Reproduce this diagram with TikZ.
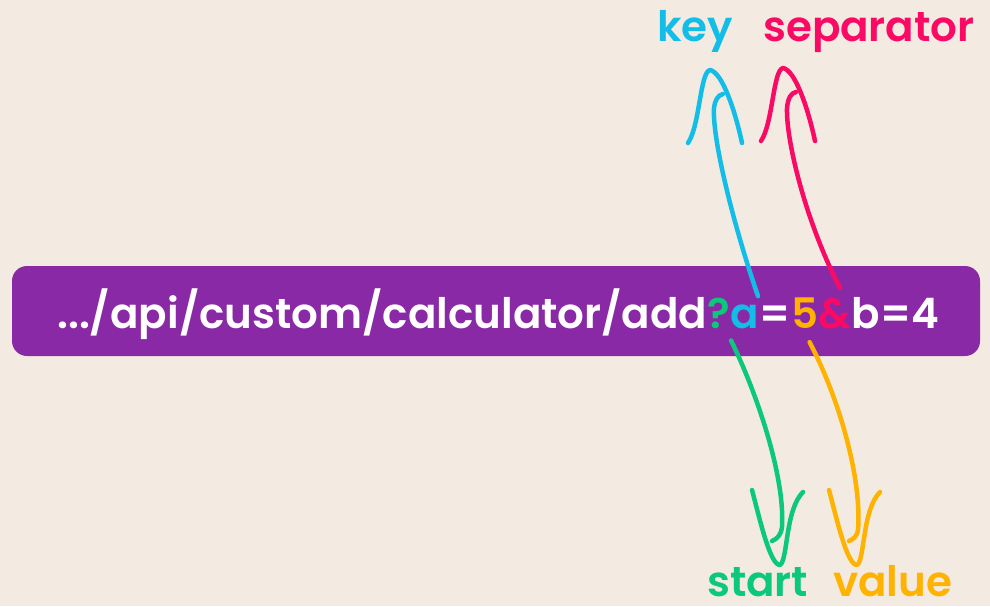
\documentclass[tikz,border=0pt]{standalone}
\usepackage{fontspec}
\setmainfont{Poppins}[BoldFont={Poppins SemiBold}]
\usepackage{xcolor}
\usepackage{tikz}
\usetikzlibrary{calc,positioning}

\definecolor{paper}{HTML}{F3EBE1}
\definecolor{barcol}{HTML}{8A29A6}
\definecolor{keycol}{HTML}{12BDE8}
\definecolor{sepcol}{HTML}{FA0A64}
\definecolor{startcol}{HTML}{0BC87A}
\definecolor{valcol}{HTML}{FFB200}

\tikzset{
	sketch/.style={line width=4.5pt, line cap=round, line join=round},
	urlpart/.style={inner sep=0pt, anchor=base west, font=\fontsize{42}{50}\selectfont\bfseries},
	label/.style={inner sep=0pt, anchor=base west, font=\fontsize{42}{50}\selectfont\bfseries},
	headup/.pic={\draw[sketch] (-22,73) .. controls (-10,55) and (-10,2) .. (0,0) .. controls (12,2) and (25,40) .. (32,73);},
	headdown/.pic={\draw[sketch] (-28,-75) .. controls (-20,-45) and (-10,0) .. (0,0) .. controls (8,-5) and (5,-55) .. (23,-73);}
}

\begin{document}
\begin{tikzpicture}[x=1pt, y=-1pt]
			\useasboundingbox (0,0) rectangle (990,606);
			\fill[paper] (0,0) rectangle (990,606);
			\node[fill=barcol, rounded corners=15pt, minimum width=968pt, minimum height=90pt, inner sep=0pt] (bar) at (496,311) {};

			% query string
			\node[urlpart, white] (url) at (57,328) {.../api/custom/calculator/add};
			\node[urlpart, startcol] (qm) at (url.base east) {?};
			\node[urlpart, keycol] (akey) at (qm.base east) {a};
			\node[urlpart, white] (eqa) at (akey.base east) {=};
			\node[urlpart, valcol] (five) at (eqa.base east) {5};
			\node[urlpart, sepcol] (amp) at (five.base east) {\&};
			\node[urlpart, white] (rest) at (amp.base east) {b=4};

			% labels
			\node[label, keycol] (key) at (657,41) {key};
			\node[label, sepcol] (sep) at (763,41) {separator};
			\node[label, startcol] (start) at (707,596) {start};
			\node[label, valcol] (value) at (833,596) {value};

			\coordinate (keytip) at (710,70);
			\coordinate (septip) at (783,68);
			\coordinate (starttip) at (780,565);
			\coordinate (valuetip) at (857,565);

			\draw[keycol, sketch] ([shift={(13,-8)}]akey.north) .. controls (735,230) and (712,140) .. ([shift={(4,38)}]keytip) .. controls ([shift={(5,30)}]keytip) and ([shift={(8,25)}]keytip) .. ([shift={(13,24)}]keytip);
			\pic[keycol] at (keytip) {headup};
			\draw[sepcol, sketch] ([shift={(5,-10)}]amp.north) .. controls (805,220) and (786,140) .. ([shift={(4,40)}]septip) .. controls ([shift={(5,30)}]septip) and ([shift={(8,25)}]septip) .. ([shift={(13,24)}]septip);
			\pic[sepcol] at (septip) {headup};
			\draw[startcol, sketch] ([shift={(12,12)}]qm.south) .. controls (760,400) and (785,480) .. ([shift={(2,-38)}]starttip) .. controls ([shift={(1,-30)}]starttip) and ([shift={(-3,-26)}]starttip) .. ([shift={(-8,-24)}]starttip);
			\pic[startcol] at (starttip) {headdown};
			\draw[valcol, sketch] ([shift={(5,14)}]five.south) .. controls (840,400) and (862,480) .. ([shift={(1,-35)}]valuetip) .. controls ([shift={(0,-29)}]valuetip) and ([shift={(-3,-26)}]valuetip) .. ([shift={(-8,-24)}]valuetip);
			\pic[valcol] at (valuetip) {headdown};
		\end{tikzpicture}
\end{document}
